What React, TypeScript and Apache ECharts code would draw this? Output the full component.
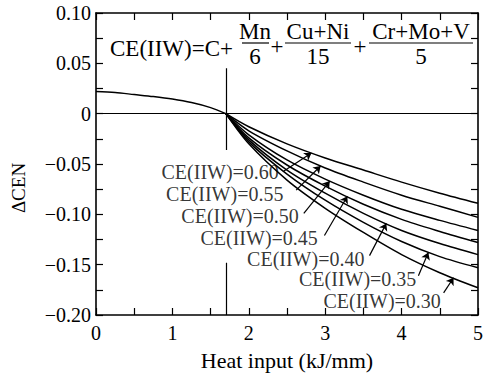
import React, { useEffect, useRef } from "react";
import * as echarts from "echarts";

// Common curve before the fan point
const preX = [0, 0.25, 0.5, 0.75, 1.0, 1.25, 1.5, 1.7];
const preY = [0.022, 0.021, 0.019, 0.017, 0.0145, 0.011, 0.006, 0];

// Fan curves (Heat input vs ΔCEN) for each CE(IIW)
const fanX = [1.7, 2, 2.5, 3, 3.5, 4, 4.5, 5];
const ce060 = [0, -0.013, -0.03, -0.044, -0.056, -0.068, -0.079, -0.089];
const ce055 = [0, -0.017, -0.037, -0.054, -0.068, -0.081, -0.092, -0.103];
const ce050 = [0, -0.021, -0.046, -0.065, -0.081, -0.095, -0.106, -0.116];
const ce045 = [0, -0.024, -0.051, -0.072, -0.09, -0.105, -0.117, -0.128];
const ce040 = [0, -0.026, -0.056, -0.079, -0.099, -0.116, -0.129, -0.14];
const ce035 = [0, -0.028, -0.06, -0.086, -0.108, -0.127, -0.142, -0.153];
const ce030 = [0, -0.03, -0.066, -0.094, -0.118, -0.14, -0.158, -0.173];
const fanSeries = [ce060, ce055, ce050, ce045, ce040, ce035, ce030];

// Curve labels
const labelTexts = [
  "CE(IIW)=0.60",
  "CE(IIW)=0.55",
  "CE(IIW)=0.50",
  "CE(IIW)=0.45",
  "CE(IIW)=0.40",
  "CE(IIW)=0.35",
  "CE(IIW)=0.30",
];
const labelX = [2.4, 2.46, 2.66, 2.91, 3.52, 4.2, 4.52];
const labelY = [-0.058, -0.08, -0.102, -0.124, -0.144, -0.164, -0.186];
const leaderFrom = [
  [2.46, -0.057],
  [2.62, -0.076],
  [2.72, -0.099],
  [2.99, -0.121],
  [3.58, -0.141],
  [4.22, -0.161],
  [4.55, -0.178],
];
const leaderTo = [
  [2.82, -0.039],
  [2.94, -0.052],
  [3.06, -0.067],
  [3.29, -0.082],
  [3.8, -0.109],
  [4.35, -0.138],
  [4.68, -0.163],
];

// Reference lines
const zeroLine = [
  [0, 0],
  [5, 0],
];
const vLineTop = [
  [1.71, 0.045],
  [1.71, -0.036],
];
const vLineBottom = [
  [1.71, -0.148],
  [1.71, -0.2],
];

// Axes
const xMin = 0;
const xMax = 5;
const yMin = -0.2;
const yMax = 0.1;
const xTitle = "Heat input (kJ/mm)";
const yTitle = "ΔCEN";

const FONT = '"Liberation Serif", "Times New Roman", serif';

function fmtY(v: number): string {
  const k = Math.round(v / 0.025);
  if (k % 2 !== 0) return "";
  if (Math.abs(v) < 1e-9) return "0";
  return (v < 0 ? "\u2212" : "") + Math.abs(v).toFixed(2);
}
function fmtX(v: number): string {
  return Math.abs(v - Math.round(v)) < 1e-9 ? String(Math.round(v)) : "";
}

function tick() {
  return {
    show: true,
    inside: false,
    length: -7,
    lineStyle: { color: "#000", width: 1.2 },
  };
}

export default function App() {
  const ref = useRef<HTMLDivElement>(null);
  useEffect(() => {
    if (!ref.current) return;
    const chart = echarts.init(ref.current, null, { renderer: "svg" });
    const black = "#000";
    const series: any[] = [];
    series.push({
      type: "line",
      data: preX.map((x, i) => [x, preY[i]]),
      smooth: 0.3,
      symbol: "none",
      lineStyle: { color: black, width: 1.5 },
      silent: true,
    });
    fanSeries.forEach((ys) => {
      series.push({
        type: "line",
        data: fanX.map((x, i) => [x, ys[i]]),
        smooth: 0.3,
        symbol: "none",
        lineStyle: { color: black, width: 1.5 },
        silent: true,
      });
    });
    series.push({
      type: "lines",
      coordinateSystem: "cartesian2d",
      data: [{ coords: zeroLine }, { coords: vLineTop }, { coords: vLineBottom }],
      symbol: ["none", "none"],
      lineStyle: { color: black, width: 1.2, opacity: 1 },
      silent: true,
    });
    series.push({
      type: "lines",
      coordinateSystem: "cartesian2d",
      data: leaderFrom.map((p, i) => ({ coords: [p, leaderTo[i]] })),
      symbol: ["none", "arrow"],
      symbolSize: 7,
      lineStyle: { color: black, width: 1.2, opacity: 1 },
      itemStyle: { color: black },
      silent: true,
    });
    series.push({
      type: "scatter",
      data: labelTexts.map((t, i) => ({ value: [labelX[i], labelY[i]], name: t })),
      symbolSize: 1,
      itemStyle: { color: "rgba(0,0,0,0)" },
      label: {
        show: true,
        position: "left",
        distance: 0,
        formatter: (p: any) => p.name,
        color: black,
        fontSize: 20,
        lineHeight: 18,
        fontFamily: FONT,
      },
      silent: true,
      z: 5,
    });

    const frac = (cx: number, num: string, den: string, x1: number, x2: number) => [
      {
        type: "text",
        x: cx,
        y: 31,
        style: { text: num, fontSize: 23, fontFamily: FONT, fill: black, align: "center", verticalAlign: "middle" },
      },
      {
        type: "line",
        shape: { x1, y1: 43, x2, y2: 43 },
        style: { stroke: black, lineWidth: 1.2 },
      },
      {
        type: "text",
        x: cx,
        y: 56,
        style: { text: den, fontSize: 23, fontFamily: FONT, fill: black, align: "center", verticalAlign: "middle" },
      },
    ];

    const option: any = {
      animation: false,
      backgroundColor: "#fff",
      grid: { left: 96, right: 4, top: 13, bottom: 58, containLabel: false },
      xAxis: [
        {
          type: "value",
          min: xMin,
          max: xMax,
          interval: 0.5,
          position: "bottom",
          axisLine: { show: true, onZero: false, lineStyle: { color: black, width: 1.6 } },
          axisTick: tick(),
          splitLine: { show: false },
          axisLabel: { formatter: fmtX, color: black, fontSize: 20, fontFamily: FONT, margin: 8 },
          name: xTitle,
          nameLocation: "middle",
          nameGap: 34,
          nameTextStyle: { color: black, fontSize: 22, fontFamily: FONT },
        },
        {
          type: "value",
          min: xMin,
          max: xMax,
          interval: 0.5,
          position: "top",
          axisLine: { show: true, onZero: false, lineStyle: { color: black, width: 1.6 } },
          axisTick: tick(),
          splitLine: { show: false },
          axisLabel: { show: false },
        },
      ],
      yAxis: [
        {
          type: "value",
          min: yMin,
          max: yMax,
          interval: 0.025,
          position: "left",
          axisLine: { show: true, onZero: false, lineStyle: { color: black, width: 1.6 } },
          axisTick: tick(),
          splitLine: { show: false },
          axisLabel: { formatter: fmtY, color: black, fontSize: 20, fontFamily: FONT, margin: 5 },
        },
        {
          type: "value",
          min: yMin,
          max: yMax,
          interval: 0.025,
          position: "right",
          axisLine: { show: true, onZero: false, lineStyle: { color: black, width: 1.6 } },
          axisTick: tick(),
          splitLine: { show: false },
          axisLabel: { show: false },
        },
      ],
      series,
      graphic: [
        {
          type: "text",
          x: 18,
          y: 188,
          rotation: Math.PI / 2,
          style: { text: yTitle, fontSize: 19, fontFamily: FONT, fill: black, align: "center", verticalAlign: "middle" },
        },
        {
          type: "text",
          x: 110,
          y: 48,
          style: { text: "CE(IIW)=C+", fontSize: 23, fontFamily: FONT, fill: black, align: "left", verticalAlign: "middle" },
        },
        ...frac(255, "Mn", "6", 242, 269),
        {
          type: "text",
          x: 277,
          y: 46,
          style: { text: "+", fontSize: 23, fontFamily: FONT, fill: black, align: "center", verticalAlign: "middle" },
        },
        ...frac(318, "Cu+Ni", "15", 285, 351),
        {
          type: "text",
          x: 360,
          y: 46,
          style: { text: "+", fontSize: 23, fontFamily: FONT, fill: black, align: "center", verticalAlign: "middle" },
        },
        ...frac(421, "Cr+Mo+V", "5", 369, 473),
      ],
    };
    chart.setOption(option);
    return () => chart.dispose();
  }, []);
  return (
    <div
      ref={ref}
      style={{ position: "fixed", left: 0, top: 0, width: 486, height: 376, background: "#fff" }}
    />
  );
}
